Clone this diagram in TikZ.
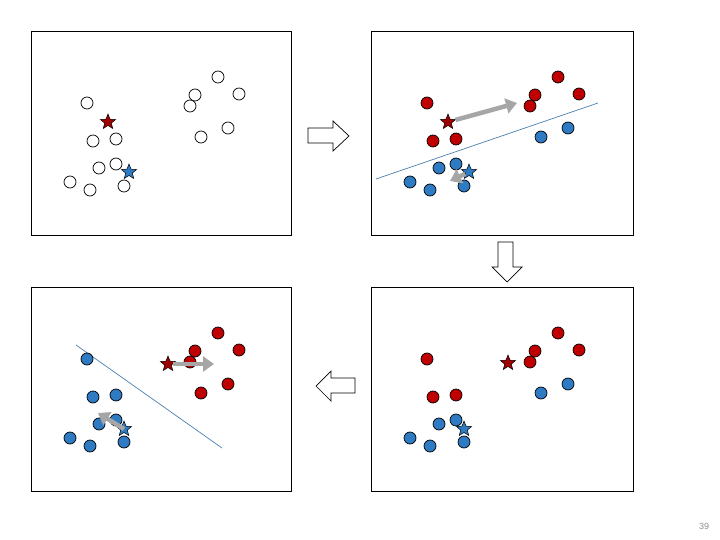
\documentclass[tikz,border=0pt]{standalone}
\usepackage{fontspec}
\setmainfont{Liberation Sans}
\usetikzlibrary{shapes.geometric, arrows.meta}
\definecolor{clusterRed}{HTML}{C00000}
\definecolor{clusterBlue}{HTML}{2E7BC4}
\definecolor{starRed}{HTML}{A00000}
\definecolor{cutBlue}{HTML}{4A7FB0}
\definecolor{shiftGray}{HTML}{A6A6A6}

\begin{document}
\begin{tikzpicture}[
    x=1pt, y=-1pt,
    panel/.style={draw, line width=0.8pt},
    dot/.style={circle, draw=black, line width=0.7pt, minimum size=12pt, inner sep=0pt},
    opendot/.style={dot, fill=white},
    reddot/.style={dot, fill=clusterRed},
    bluedot/.style={dot, fill=clusterBlue},
    centroid/.style={star, star points=5, star point ratio=2.3, minimum size=16pt, inner sep=0pt, draw=black, line width=0.5pt},
    redstar/.style={centroid, fill=starRed},
    bluestar/.style={centroid, fill=clusterBlue},
    cut/.style={draw=cutBlue, line width=0.7pt},
    shift arrow/.style={draw=shiftGray, line width=4.5pt, -{Triangle[length=11pt, width=15pt]}},
    stage arrow/.style={draw, line width=0.7pt, fill=white},
]
    \useasboundingbox (0,0) rectangle (720,540);

    % point groups, panel-local coordinates
    \def\groupA{56/72, 62/110, 85/108}
    \def\groupB{68/137, 85/133, 39/151, 59/159, 93/155}
    \def\groupC{187/46, 164/64, 208/63, 159/75}
    \def\groupD{197/97, 170/106}

    % panel 1: unlabelled data, initial centroids
    \begin{scope}[shift={(31,31)}]
        \draw[panel] (0,0) rectangle (260,204);
        \foreach \x/\y [count=\i] in \groupA {\node[opendot] (a-A\i) at (\x,\y) {};}
        \foreach \x/\y [count=\i] in \groupB {\node[opendot] (a-B\i) at (\x,\y) {};}
        \foreach \x/\y [count=\i] in \groupC {\node[opendot] (a-C\i) at (\x,\y) {};}
        \foreach \x/\y [count=\i] in \groupD {\node[opendot] (a-D\i) at (\x,\y) {};}
        \node[redstar] (a-red) at (77,91) {};
        \node[bluestar] (a-blue) at (98,141) {};
    \end{scope}

    % panel 2: assignment, centroids moving
    \begin{scope}[shift={(371,31)}]
        \draw[panel] (0,0) rectangle (262,204);
        \coordinate (b-cut1) at (5,148);
        \coordinate (b-cut2) at (227,72);
        \draw[cut] (b-cut1) -- (b-cut2);
        \foreach \x/\y [count=\i] in \groupA {\node[reddot] (b-A\i) at (\x,\y) {};}
        \foreach \x/\y [count=\i] in \groupB {\node[bluedot] (b-B\i) at (\x,\y) {};}
        \foreach \x/\y [count=\i] in \groupC {\node[reddot] (b-C\i) at (\x,\y) {};}
        \foreach \x/\y [count=\i] in \groupD {\node[bluedot] (b-D\i) at (\x,\y) {};}
        \node[redstar] (b-red) at (77,91) {};
        \node[bluestar] (b-blue) at (98,141) {};
        \coordinate (b-redto) at (146,72);
        \coordinate (b-blueto) at (79,150);
        \draw[shift arrow] (b-red) -- (b-redto);
        \draw[shift arrow] (b-blue) -- (b-blueto);
    \end{scope}

    % panel 4: centroids in new place
    \begin{scope}[shift={(371,287)}]
        \draw[panel] (0,0) rectangle (262,204);
        \foreach \x/\y [count=\i] in \groupA {\node[reddot] (d-A\i) at (\x,\y) {};}
        \foreach \x/\y [count=\i] in \groupB {\node[bluedot] (d-B\i) at (\x,\y) {};}
        \foreach \x/\y [count=\i] in \groupC {\node[reddot] (d-C\i) at (\x,\y) {};}
        \foreach \x/\y [count=\i] in \groupD {\node[bluedot] (d-D\i) at (\x,\y) {};}
        \node[redstar] (d-red) at (137,76) {};
        \node[bluestar] (d-blue) at (93,142) {};
    \end{scope}

    % panel 3: reassignment
    \begin{scope}[shift={(31,287)}]
        \draw[panel] (0,0) rectangle (260,204);
        \coordinate (c-cut1) at (45,58);
        \coordinate (c-cut2) at (191,161);
        \draw[cut] (c-cut1) -- (c-cut2);
        \foreach \x/\y [count=\i] in \groupA {\node[bluedot] (c-A\i) at (\x,\y) {};}
        \foreach \x/\y [count=\i] in \groupB {\node[bluedot] (c-B\i) at (\x,\y) {};}
        \foreach \x/\y [count=\i] in \groupC {\node[reddot] (c-C\i) at (\x,\y) {};}
        \foreach \x/\y [count=\i] in \groupD {\node[reddot] (c-D\i) at (\x,\y) {};}
        \node[redstar] (c-red) at (137,77) {};
        \node[bluestar] (c-blue) at (93,142) {};
        \coordinate (c-redto) at (183,77);
        \coordinate (c-blueto) at (67,126);
        \draw[shift arrow] (c-red) -- (c-redto);
        \draw[shift arrow] (c-blue.center) -- (c-blueto);
    \end{scope}

    % stage arrows
    \draw[stage arrow] (308,128) -- (333,128) -- (333,121) -- (349,136) -- (333,151) -- (333,143) -- (308,143) -- cycle;
    \draw[stage arrow] (498,242) -- (513,242) -- (513,267) -- (522,267) -- (507,282) -- (492,267) -- (498,267) -- cycle;
    \draw[stage arrow] (355,378) -- (331,378) -- (331,371) -- (316,386) -- (331,401) -- (331,393) -- (355,393) -- cycle;

    \node[font=\fontsize{9}{10}\selectfont, text=black!45] (pagenum) at (704,526) {39};
\end{tikzpicture}
\end{document}
